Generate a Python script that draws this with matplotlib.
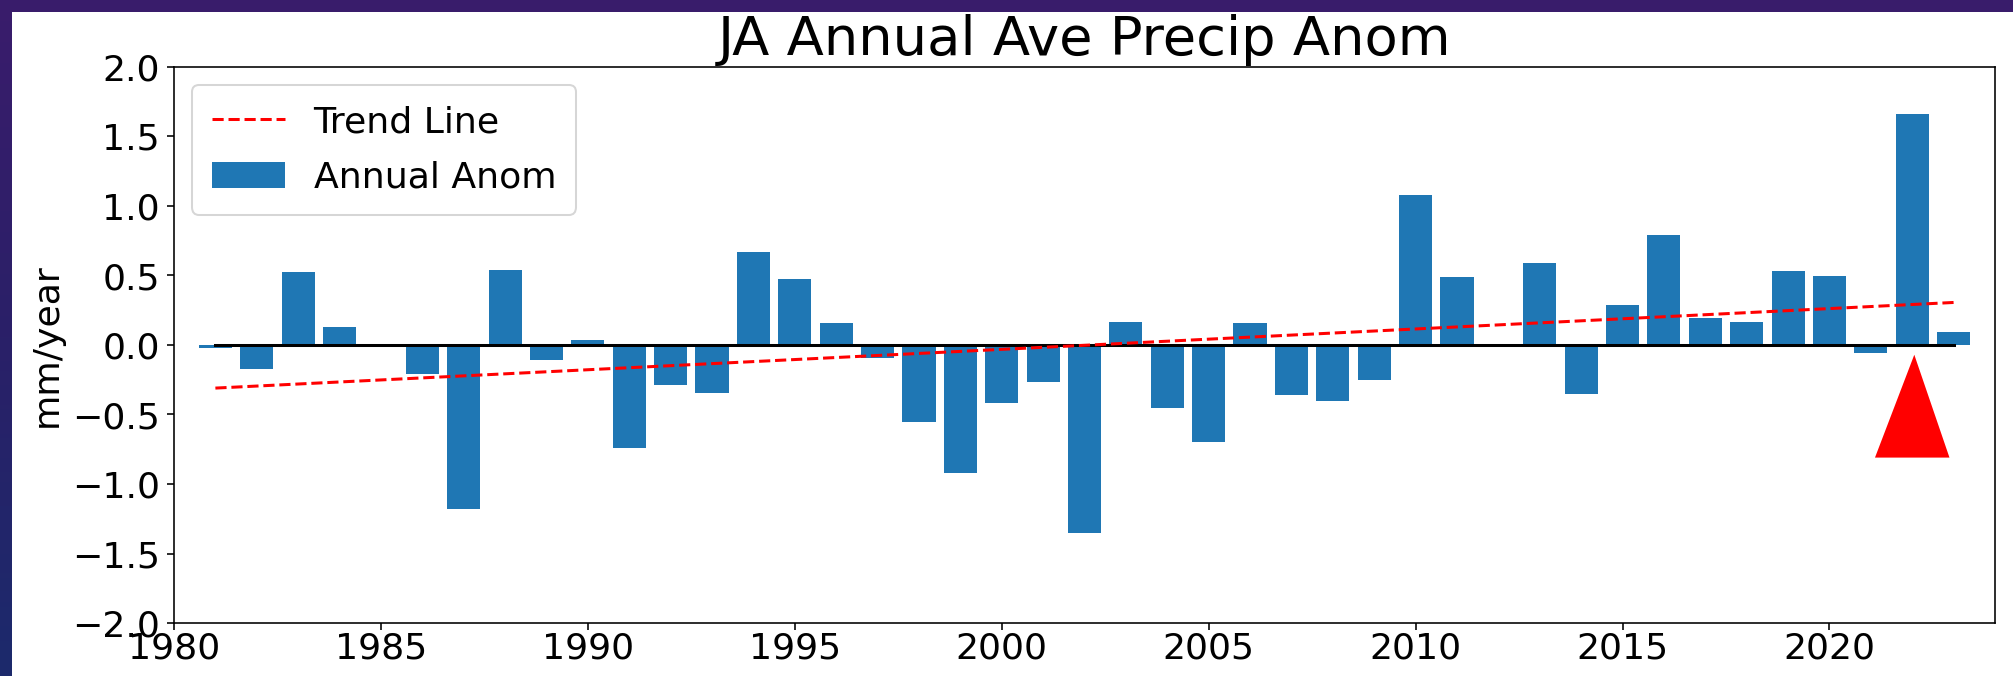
import matplotlib
matplotlib.use("Agg")
import matplotlib.pyplot as plt
import numpy as np
from matplotlib.patches import Rectangle, Polygon
from matplotlib.colors import LinearSegmentedColormap

# ---- data -------------------------------------------------------------
years = list(range(1981, 2024))
annual_anom = [
    -0.025, -0.175, 0.524, 0.133, -0.015, -0.21, -1.18, 0.543, -0.11, 0.037,
    -0.74, -0.29, -0.345, 0.668, 0.476, 0.157, -0.093, -0.556, -0.92, -0.414,
    -0.268, -1.35, 0.164, -0.452, -0.70, 0.157, -0.357, -0.405, -0.25, 1.078,
    0.486, 0.0, 0.591, -0.35, 0.291, 0.788, 0.191, 0.164, 0.534, 0.495,
    -0.056, 1.663, 0.097,
]
trend_years = [1981, 2023]
trend_values = [-0.31, 0.306]
highlight_year = 2022

x_ticks = [1980, 1985, 1990, 1995, 2000, 2005, 2010, 2015, 2020]
y_ticks = [-2.0, -1.5, -1.0, -0.5, 0.0, 0.5, 1.0, 1.5, 2.0]

title = "JA Annual Ave Precip Anom"
y_label = "mm/year"
trend_label = "Trend Line"
bar_label = "Annual Anom"

# ---- figure -----------------------------------------------------------
plt.rcParams["font.family"] = ["DejaVu Sans"]
plt.rcParams["font.size"] = 18

W, H, DPI = 2013, 676, 145
fig = plt.figure(figsize=(W / DPI, H / DPI), dpi=DPI)

# slide-style backdrop with a white panel
bg = fig.add_axes([0, 0, 1, 1], zorder=-5)
cmap = LinearSegmentedColormap.from_list("slide", ["#1c2a6c", "#2a2068", "#3a1c6c"])
grad = np.linspace(0, 1, 256).reshape(-1, 1)
bg.imshow(grad, cmap=cmap, aspect="auto", extent=[0, 1, 0, 1], origin="lower")
bg.add_patch(Rectangle((12 / W, 0), 1 - 12 / W, 1 - 12 / H,
                       facecolor="white", edgecolor="none"))
bg.set_xlim(0, 1)
bg.set_ylim(0, 1)
bg.axis("off")

ax = fig.add_axes([174 / W, 53 / H, (1995 - 174) / W, (623 - 67) / H])
ax.set_facecolor("white")

bars = ax.bar(years, annual_anom, width=0.8, color="#1f77b4", label=bar_label)
ax.plot([years[0], years[-1]], [0, 0], color="black", lw=1.5)
trend, = ax.plot(trend_years, trend_values, "r--", lw=1.5, label=trend_label)

# marker pointing at the highlighted year
hy = highlight_year
ax.add_patch(Polygon([(hy - 0.9, -0.81), (hy + 0.9, -0.81), (hy + 0.05, -0.07)],
                     closed=True, facecolor="#ff0000", edgecolor="none", zorder=4))

ax.set_xlim(1980, 2024)
ax.set_ylim(-2.0, 2.0)
ax.set_xticks(x_ticks)
ax.set_yticks(y_ticks)
ax.set_yticklabels([f"{v:.1f}".replace("-", "\u2212") for v in y_ticks])
ax.tick_params(axis="x", pad=0.5)
ax.set_ylabel(y_label)
ax.set_title(title, fontsize=27)

ax.legend(handles=[trend, bars], labels=[trend_label, bar_label],
          loc="upper left", borderpad=0.55, labelspacing=0.6)

fig.savefig("out.png", dpi=DPI)
